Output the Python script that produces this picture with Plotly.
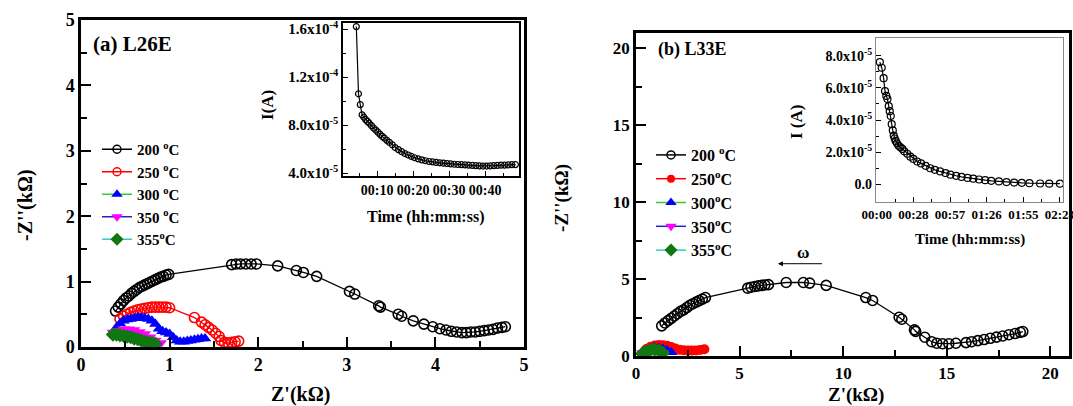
import plotly.graph_objects as go

W, H = 1073, 406
SERIF = "Liberation Serif, Times New Roman, serif"

# ---------------- Panel (a) L26E : Nyquist data (kOhm) ----------------
a200_x = [0.39, 0.42, 0.45, 0.48, 0.51, 0.54, 0.57, 0.60, 0.63, 0.66, 0.69, 0.72, 0.75, 0.78, 0.81,
          0.84, 0.87, 0.90, 0.93, 0.96, 0.99, 1.70, 1.75, 1.80, 1.86, 1.92, 1.98, 2.22, 2.43, 2.51,
          2.66, 3.03, 3.09, 3.36, 3.38, 3.58, 3.62, 3.75, 3.87, 3.97, 4.05, 4.12, 4.18, 4.24, 4.30,
          4.35, 4.40, 4.45, 4.50, 4.55, 4.60, 4.65, 4.70, 4.75, 4.79]
a200_y = [0.55, 0.61, 0.66, 0.71, 0.75, 0.78, 0.82, 0.85, 0.88, 0.91, 0.93, 0.95, 0.97, 0.99, 1.01,
          1.03, 1.05, 1.07, 1.08, 1.10, 1.11, 1.26, 1.27, 1.27, 1.27, 1.27, 1.27, 1.24, 1.17, 1.14,
          1.08, 0.85, 0.81, 0.63, 0.61, 0.50, 0.47, 0.40, 0.35, 0.31, 0.28, 0.26, 0.24, 0.23, 0.22,
          0.22, 0.23, 0.23, 0.24, 0.25, 0.26, 0.27, 0.29, 0.30, 0.31]
a250_x = [0.44, 0.48, 0.52, 0.56, 0.60, 0.64, 0.68, 0.72, 0.76, 0.80, 0.84, 0.88, 0.92, 0.96, 1.00,
          1.28, 1.36, 1.40, 1.44, 1.48, 1.52, 1.56, 1.58, 1.62, 1.66, 1.70, 1.74, 1.78]
a250_y = [0.43, 0.47, 0.50, 0.53, 0.55, 0.57, 0.58, 0.59, 0.60, 0.61, 0.61, 0.61, 0.61, 0.61, 0.60,
          0.45, 0.38, 0.34, 0.30, 0.26, 0.21, 0.16, 0.10, 0.07, 0.06, 0.07, 0.08, 0.09]
a300_x = [0.40, 0.44, 0.48, 0.52, 0.56, 0.60, 0.64, 0.68, 0.72, 0.76, 0.80, 0.84, 0.88, 0.92, 0.96,
          1.00, 1.04, 1.08, 1.12, 1.16, 1.20, 1.24, 1.28, 1.32, 1.36, 1.40]
a300_y = [0.30, 0.36, 0.40, 0.42, 0.43, 0.44, 0.45, 0.45, 0.44, 0.43, 0.40, 0.35, 0.28, 0.24, 0.22,
          0.20, 0.15, 0.10, 0.08, 0.08, 0.09, 0.10, 0.11, 0.12, 0.13, 0.13]
a350_x = [0.36, 0.42, 0.48, 0.54, 0.60, 0.66, 0.72, 0.78, 0.84, 0.90]
a350_y = [0.22, 0.25, 0.27, 0.27, 0.26, 0.23, 0.20, 0.15, 0.10, 0.06]
a355_x = [0.36, 0.40, 0.44, 0.48, 0.52, 0.56, 0.60, 0.64, 0.68, 0.72, 0.76, 0.80, 0.84]
a355_y = [0.19, 0.19, 0.18, 0.17, 0.16, 0.15, 0.13, 0.12, 0.10, 0.08, 0.07, 0.06, 0.05]

# inset (a): current vs time (minutes)
ia_t = [4.2, 4.8, 5.3, 5.8, 6.3, 6.8, 7.3, 7.8, 8.4, 9.0, 9.6, 10.2, 10.8, 11.4, 12.0, 12.7, 13.4,
        14.2, 15.0, 15.9, 16.8, 17.7, 18.6, 19.5, 20.4, 21.4, 22.4, 23.4, 24.4, 25.4, 26.4, 27.4,
        28.4, 29.4, 30.4, 31.4, 32.4, 33.4, 34.4, 35.4, 36.4, 37.4, 38.4, 39.4, 40.4, 41.4, 42.4,
        43.4, 44.4, 45.4, 46.4, 47.4, 48.4]
ia_I = [16.2, 10.6, 9.7, 8.85, 8.65, 8.45, 8.3, 8.15, 7.95, 7.75, 7.58, 7.4, 7.22, 7.05, 6.9, 6.72,
        6.55, 6.35, 6.12, 5.95, 5.78, 5.62, 5.5, 5.38, 5.27, 5.17, 5.09, 5.02, 4.96, 4.92, 4.88,
        4.85, 4.82, 4.79, 4.76, 4.73, 4.71, 4.69, 4.67, 4.65, 4.63, 4.61, 4.59, 4.58, 4.58, 4.59,
        4.61, 4.63, 4.65, 4.66, 4.68, 4.69, 4.70]  # x1e-5 A

# ---------------- Panel (b) L33E ----------------
b200_x = [1.24, 1.40, 1.55, 1.70, 1.85, 2.00, 2.15, 2.30, 2.45, 2.60, 2.75, 2.90, 3.05, 3.20, 3.35,
          5.39, 5.55, 5.73, 5.90, 6.06, 6.22, 6.39, 7.25, 8.08, 8.38, 9.18, 11.09, 11.42, 12.70,
          12.83, 13.44, 13.50, 13.94, 14.27, 14.52, 14.80, 15.10, 15.44, 15.93, 16.20, 16.50,
          16.80, 17.10, 17.40, 17.70, 18.00, 18.30, 18.55, 18.67]
b200_y = [1.96, 2.15, 2.30, 2.45, 2.60, 2.75, 2.90, 3.00, 3.15, 3.30, 3.40, 3.50, 3.60, 3.70, 3.80,
          4.41, 4.47, 4.52, 4.56, 4.59, 4.62, 4.64, 4.78, 4.78, 4.74, 4.59, 3.80, 3.61, 2.52,
          2.39, 1.70, 1.60, 1.22, 0.93, 0.83, 0.80, 0.80, 0.83, 0.87, 0.93, 1.00,
          1.07, 1.15, 1.23, 1.30, 1.38, 1.46, 1.54, 1.59]
b250_x = [0.5, 0.7, 0.9, 1.1, 1.3, 1.5, 1.7, 1.9, 2.1, 2.3, 2.5, 2.7, 2.9, 3.1, 3.3]
b250_y = [0.45, 0.60, 0.68, 0.72, 0.70, 0.66, 0.58, 0.48, 0.40, 0.37, 0.35, 0.35, 0.36, 0.39, 0.44]
b300_x = [0.3, 0.5, 0.7, 0.9, 1.1, 1.3, 1.5, 1.7]
b300_y = [0.25, 0.40, 0.50, 0.55, 0.52, 0.45, 0.35, 0.25]
b350_x = [0.3, 0.5, 0.7, 0.9, 1.1, 1.3]
b350_y = [0.20, 0.30, 0.36, 0.35, 0.28, 0.20]
b355_x = [0.3, 0.5, 0.7, 0.9, 1.1, 1.3]
b355_y = [0.15, 0.30, 0.40, 0.42, 0.35, 0.20]

# inset (b): current vs time (hours)
ib_t = [0.04, 0.065, 0.09, 0.108, 0.125, 0.14, 0.157, 0.17, 0.183, 0.196, 0.21, 0.222, 0.235,
        0.248, 0.265, 0.287, 0.31, 0.335, 0.36, 0.40, 0.44, 0.48, 0.53, 0.58, 0.64, 0.70, 0.76,
        0.83, 0.90, 0.965, 1.04, 1.11, 1.19, 1.265, 1.34, 1.42, 1.50, 1.60, 1.70, 1.80, 1.90,
        2.00, 2.14, 2.26, 2.40]
ib_I = [7.6, 7.25, 6.6, 5.8, 5.5, 5.3, 4.86, 4.55, 4.25, 3.74, 3.35, 3.03, 2.85, 2.7, 2.55, 2.4,
        2.3, 2.2, 2.05, 1.9, 1.72, 1.58, 1.42, 1.3, 1.15, 1.0, 0.9, 0.8, 0.7, 0.6, 0.53, 0.46,
        0.4, 0.35, 0.3, 0.26, 0.22, 0.18, 0.14, 0.11, 0.09, 0.07, 0.05, 0.04, 0.04]  # x1e-5 A

legend_names = ["200 <sup>o</sup>C", "250 <sup>o</sup>C", "300 <sup>o</sup>C", "350 <sup>o</sup>C", "355<sup>o</sup>C"]
legend_names_b = ["200 <sup>o</sup>C", "250<sup>o</sup>C", "300<sup>o</sup>C", "350<sup>o</sup>C", "355<sup>o</sup>C"]
line_colors = ["black", "red", "#33cc33", "#2222cc", "#33cccc"]
marker_colors = ["black", "red", "blue", "magenta", "#117711"]
symbols_a = ["circle-open", "circle-open", "triangle-up", "triangle-down", "diamond"]
symbols_b = ["circle-open", "circle", "triangle-up", "triangle-down", "diamond"]

a_x_inset_ticks = [10, 20, 30, 40]
a_x_inset_text = ["00:10", "00:20", "00:30", "00:40"]
a_y_inset_ticks = [4e-5, 8e-5, 1.2e-4, 1.6e-4]
a_y_inset_text = ["4.0x10<sup>-5</sup>", "8.0x10<sup>-5</sup>", "1.2x10<sup>-4</sup>", "1.6x10<sup>-4</sup>"]
b_x_inset_ticks = [0, 0.48, 0.96, 1.44, 1.92, 2.40]
b_x_inset_text = ["00:00", "00:28", "00:57", "01:26", "01:55", "02:24"]
b_y_inset_ticks = [0, 2e-5, 4e-5, 6e-5, 8e-5]
b_y_inset_text = ["0.0", "2.0x10<sup>-5</sup>", "4.0x10<sup>-5</sup>", "6.0x10<sup>-5</sup>", "8.0x10<sup>-5</sup>"]

fig = go.Figure()


def add_series(sets, names, symbols, xa, ya, leg):
    for i, (xs, ys) in enumerate(sets):
        sym = symbols[i]
        lw = 1.6 if "open" in sym else 0
        fig.add_trace(go.Scatter(
            x=xs, y=ys, mode="lines+markers", showlegend=False,
            xaxis=xa, yaxis=ya,
            line=dict(color=line_colors[i], width=1.3),
            marker=dict(symbol=sym, size=10 if i < 2 else 11, color=marker_colors[i],
                        line=dict(color=marker_colors[i], width=lw)),
        ))
    # legend entries (smaller symbols, as in the reference legend)
    for i in range(len(sets)):
        sym = symbols[i]
        lw = 1.5 if "open" in sym else 0
        fig.add_trace(go.Scatter(
            x=[None], y=[None], mode="lines+markers", name=names[i], legend=leg,
            xaxis=xa, yaxis=ya,
            line=dict(color=line_colors[i], width=1.5),
            marker=dict(symbol=sym, size=8 if i < 2 else 10, color=marker_colors[i],
                        line=dict(color=marker_colors[i], width=lw)),
        ))


add_series([(a200_x, a200_y), (a250_x, a250_y), (a300_x, a300_y), (a350_x, a350_y), (a355_x, a355_y)],
           legend_names, symbols_a, "x", "y", "legend")
add_series([(b200_x, b200_y), (b250_x, b250_y), (b300_x, b300_y), (b350_x, b350_y), (b355_x, b355_y)],
           legend_names_b, symbols_b, "x2", "y2", "legend2")

fig.add_trace(go.Scatter(
    x=ia_t, y=[v * 1e-5 for v in ia_I], mode="lines+markers", showlegend=False,
    xaxis="x3", yaxis="y3", line=dict(color="black", width=1.2),
    marker=dict(symbol="circle-open", size=6, color="black", line=dict(width=1.2, color="black")),
))
fig.add_trace(go.Scatter(
    x=ib_t, y=[v * 1e-5 for v in ib_I], mode="lines+markers", showlegend=False,
    xaxis="x4", yaxis="y4", line=dict(color="black", width=1.2),
    marker=dict(symbol="circle-open", size=7, color="black", line=dict(width=1.2, color="black")),
))


def px_x(p):
    return p / W


def px_y(p):
    return 1 - p / H


def main_axis(domain, rng, dtick, minor, anchor, size):
    return dict(
        domain=domain, range=rng, anchor=anchor, tickmode="linear", tick0=0, dtick=dtick,
        ticks="inside", ticklen=10, tickwidth=2, tickcolor="black", automargin=False,
        minor=dict(ticks="inside", dtick=minor, tick0=0, ticklen=6, tickwidth=2, tickcolor="black"),
        showline=True, linewidth=2.5, linecolor="black", mirror=True,
        showgrid=False, zeroline=False,
        tickfont=dict(family=SERIF, size=size, color="black", weight="bold"),
    )


def inset_axis(domain, rng, tv, tt, anchor, minor_vals, lc, lw, size):
    return dict(
        domain=domain, range=rng, anchor=anchor, tickmode="array", tickvals=tv, ticktext=tt,
        ticks="inside", ticklen=5, tickwidth=1.2, tickcolor="black", automargin=False,
        ticklabeloverflow="allow",
        minor=dict(ticks="inside", tickmode="array", tickvals=minor_vals, ticklen=3,
                   tickwidth=1.2, tickcolor="black"),
        showline=True, linewidth=lw, linecolor=lc, mirror=True,
        showgrid=False, zeroline=False,
        tickfont=dict(family=SERIF, size=size, color="black", weight="bold"),
    )


fig.update_layout(
    template="none",
    width=W, height=H, margin=dict(l=0, r=0, t=0, b=0, pad=0),
    paper_bgcolor="white", plot_bgcolor="white",
    xaxis=main_axis([px_x(81), px_x(524)], [0, 5], 1, 0.5, "y", 18),
    yaxis=main_axis([px_y(347), px_y(20)], [0, 5], 1, 0.5, "x", 18),
    xaxis2=main_axis([px_x(636), px_x(1069)], [0, 20.9], 5, 2.5, "y2", 17),
    yaxis2=main_axis([px_y(356), px_y(33)], [0, 21], 5, 2.5, "x2", 17),
    xaxis3=inset_axis([px_x(343), px_x(519)], [0.5, 49.4], a_x_inset_ticks, a_x_inset_text, "y3",
                      [5, 15, 25, 35, 45], "black", 1.5, 14),
    yaxis3=inset_axis([px_y(176), px_y(23)], [3.75e-5, 1.65e-4], a_y_inset_ticks, a_y_inset_text, "x3",
                      [6e-5, 1.0e-4, 1.4e-4], "black", 1.5, 15),
    xaxis4=inset_axis([px_x(876), px_x(1063)], [-0.01, 2.44], b_x_inset_ticks, b_x_inset_text, "y4",
                      [0.24, 0.72, 1.20, 1.68, 2.16], "#888888", 1.2, 13),
    yaxis4=inset_axis([px_y(202), px_y(38)], [-1.1e-5, 9.1e-5], b_y_inset_ticks, b_y_inset_text, "x4",
                      [1e-5, 3e-5, 5e-5, 7e-5], "#888888", 1.2, 14),
    legend=dict(x=px_x(97), y=px_y(133), xanchor="left", yanchor="top",
                bgcolor="rgba(0,0,0,0)", borderwidth=0, tracegroupgap=0,
                font=dict(family=SERIF, size=15, color="black", weight="bold")),
    legend2=dict(x=px_x(651), y=px_y(138), xanchor="left", yanchor="top",
                 bgcolor="rgba(0,0,0,0)", borderwidth=0, tracegroupgap=0,
                 font=dict(family=SERIF, size=16, color="black", weight="bold")),
    showlegend=True,
)

annos = [
    dict(text="-Z''(kΩ)", x=px_x(25), y=px_y(205), textangle=-90, size=20),
    dict(text="Z'(kΩ)", x=px_x(300), y=px_y(394), textangle=0, size=20),
    dict(text="-Z''(kΩ)", x=px_x(562), y=px_y(198), textangle=-90, size=19),
    dict(text="Z'(kΩ)", x=px_x(856), y=px_y(395), textangle=0, size=19),
    dict(text="I(A)", x=px_x(268), y=px_y(105), textangle=-90, size=17),
    dict(text="Time (hh:mm:ss)", x=px_x(425), y=px_y(217), textangle=0, size=16),
    dict(text="I (A)", x=px_x(797), y=px_y(122), textangle=-90, size=17),
    dict(text="Time (hh:mm:ss)", x=px_x(970), y=px_y(239), textangle=0, size=15),
]
for a in annos:
    fig.add_annotation(text=a["text"], x=a["x"], y=a["y"], xref="paper", yref="paper",
                       showarrow=False, textangle=a["textangle"], xanchor="center", yanchor="middle",
                       font=dict(family=SERIF, size=a["size"], color="black", weight="bold"))

fig.add_annotation(text="(a) L26E", x=px_x(91), y=px_y(44), xref="paper", yref="paper",
                   showarrow=False, xanchor="left", yanchor="middle",
                   font=dict(family=SERIF, size=21, color="black", weight="bold"))
fig.add_annotation(text="(b) L33E", x=px_x(656), y=px_y(50), xref="paper", yref="paper",
                   showarrow=False, xanchor="left", yanchor="middle",
                   font=dict(family=SERIF, size=18, color="black", weight="bold"))

# omega arrow in panel (b)
fig.add_annotation(x=6.85, y=6.0, ax=9.05, ay=6.0, xref="x2", yref="y2", axref="x2", ayref="y2",
                   text="", showarrow=True, arrowhead=2, arrowsize=1, arrowwidth=1, arrowcolor="black")
fig.add_annotation(text="ω", x=8.05, y=6.75, xref="x2", yref="y2", showarrow=False,
                   font=dict(family=SERIF, size=17, color="black", weight="bold"))

fig.write_html("out.html")
